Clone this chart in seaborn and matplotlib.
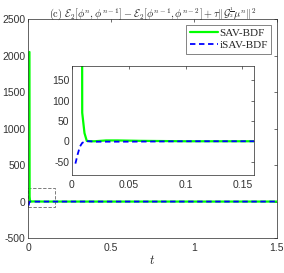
import numpy as np
import pandas as pd
import matplotlib
matplotlib.use("Agg")
import matplotlib.pyplot as plt
import seaborn as sns
from matplotlib.patches import Rectangle

# energy increment data
t_sav = [0.008, 0.009, 0.011, 0.013, 0.016, 0.02, 0.03, 0.04, 0.06, 0.1, 0.16, 0.5, 1.0, 1.5]
e_sav = [2050, 70, 20, 1, 0, 0, 2, 2, 1, 0, 0, 0, 0, 0]
t_isav = [0.003, 0.005, 0.007, 0.009, 0.011, 0.013, 0.016, 0.02, 0.05, 0.1, 0.16, 0.5, 1.0, 1.5]
e_isav = [-55, -32, -13, -4, -1, 0, 0, -1, -1, 0, 0, 0, 0, 0]

main_xticks = [0, 0.5, 1, 1.5]
main_yticks = [-500, 0, 500, 1000, 1500, 2000, 2500]
inset_xticks = [0, 0.05, 0.1, 0.15]
inset_yticks = [-50, 0, 50, 100, 150]

df = pd.concat([
    pd.DataFrame({"t": t_sav, "E": e_sav, "method": "SAV-BDF"}),
    pd.DataFrame({"t": t_isav, "E": e_isav, "method": "iSAV-BDF"}),
])

sns.set_style("white")
plt.rcParams["font.family"] = ["Liberation Sans", "DejaVu Sans"]
plt.rcParams["mathtext.fontset"] = "cm"

fig = plt.figure(figsize=(2.84, 2.73), dpi=100)
ax = fig.add_axes([0.099, 0.128, 0.876, 0.802])

def draw(a):
    sns.lineplot(data=df[df.method == "SAV-BDF"], x="t", y="E", ax=a, color=(0, 1, 0),
                 lw=1.6, label="SAV-BDF", legend=False)
    sns.lineplot(data=df[df.method == "iSAV-BDF"], x="t", y="E", ax=a, color=(0, 0, 1),
                 lw=1.3, ls=(0, (3, 2)), label="iSAV-BDF", legend=False)

def style(a, xt, yt):
    a.set_xticks(xt)
    a.set_yticks(yt)
    a.set_xticklabels([f"{v:g}" for v in xt])
    a.set_yticklabels([f"{v:g}" for v in yt])
    a.tick_params(direction="in", top=True, right=True, length=2.5, width=0.5,
                  labelsize=7.5, colors="#333333", pad=3.5)
    for s in a.spines.values():
        s.set_linewidth(0.5)
        s.set_color("#262626")
    a.set_xlabel("")
    a.set_ylabel("")

draw(ax)
ax.set_xlim(0, 1.5)
ax.set_ylim(-500, 2500)
style(ax, main_xticks, main_yticks)
ax.tick_params(axis="y", pad=2)
ax.set_xlabel("$t$", fontsize=9, labelpad=1)
ax.set_title(r"$\mathrm{(c)}\ \mathcal{E}_2[\phi^n,\phi^{n-1}]-\mathcal{E}_2[\phi^{n-1},\phi^{n-2}]+\tau\|\mathcal{G}^{\frac{1}{2}}\mu^n\|^2$",
             fontsize=7.4, pad=2)
ax.add_patch(Rectangle((0, -80), 0.16, 260, fill=False, ec="#666666", lw=0.6, ls=(0, (4, 2))))
ax.legend(loc="upper right", frameon=True, fancybox=False, edgecolor="#262626",
          borderpad=0.3, handlelength=2.6, handletextpad=0.1, labelspacing=0.25,
          prop={"family": "Liberation Serif", "size": 8}, borderaxespad=0.5)
ax.get_legend().get_frame().set_linewidth(0.5)

ins = fig.add_axes([0.2535, 0.359, 0.64, 0.399])
draw(ins)
ins.set_xlim(0, 0.16)
ins.set_ylim(-83, 185)
style(ins, inset_xticks, inset_yticks)
ins.tick_params(axis="y", pad=2)

fig.savefig("out.png", dpi=100)
